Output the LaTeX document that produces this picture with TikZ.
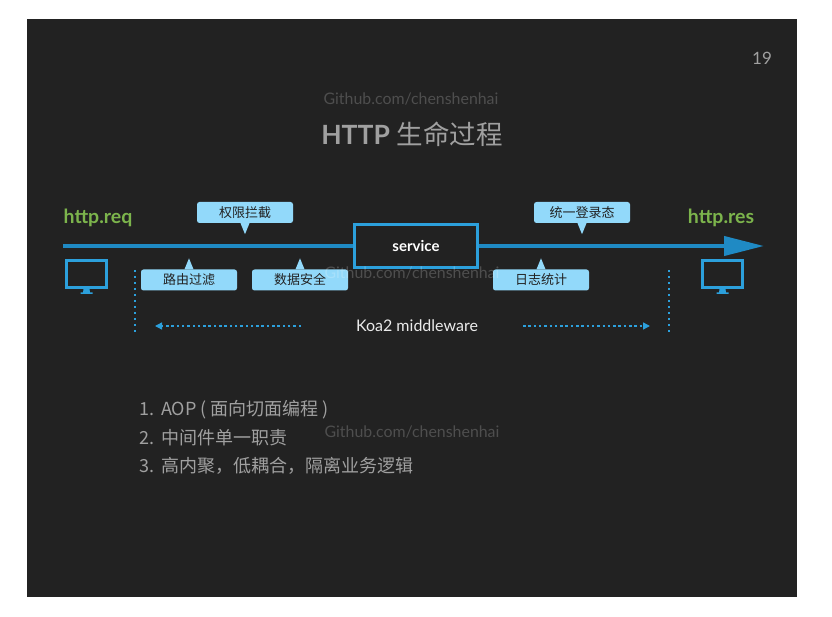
\documentclass[tikz,border=0pt]{standalone}
\usepackage{fontspec}
\setmainfont{Lato}
\newfontfamily\cjk{Noto Sans CJK SC}
\usepackage{tikz}
\usetikzlibrary{arrows.meta, positioning}
\definecolor{slidebg}{RGB}{34,34,34}
\definecolor{flowblue}{RGB}{31,138,196}
\definecolor{iconblue}{RGB}{44,160,220}
\definecolor{tagblue}{RGB}{146,217,250}
\definecolor{httpgreen}{RGB}{124,180,76}
\definecolor{listgray}{RGB}{160,160,160}
\newcommand{\listno}[1]{\makebox[22pt][l]{#1}}
\tikzset{
  tag/.style={fill=tagblue, rounded corners=2.5pt, minimum width=96pt, minimum height=21pt,
    inner sep=0pt, font=\cjk\fontsize{13}{15}\selectfont, text=slidebg},
  tagtip/.style={fill=tagblue},
  watermark/.style={text=white, text opacity=0.2, font=\fontsize{15.9}{18}\selectfont},
  httplabel/.style={text=httpgreen, font=\bfseries\fontsize{19.5}{22}\selectfont},
  listitem/.style={text=listgray, anchor=west, inner sep=0pt, font=\cjk\fontsize{18}{22}\selectfont},
  guide/.style={iconblue, line width=1.5pt, dash pattern=on 2.5pt off 3.5pt},
  guidearrow/.style={iconblue, line width=1.4pt, dash pattern=on 2.5pt off 2.8pt, -{Triangle[length=7pt,width=7pt]}},
}
\begin{document}
\begin{tikzpicture}[x=1pt, y=-1pt]
  \useasboundingbox (0,0) rectangle (832,617);
  \fill[white] (0,0) rectangle (832,617);
  \fill[slidebg] (27,19) rectangle (797,597);

  % Title and page number
  \node[text=listgray, font=\fontsize{17}{18}\selectfont] (page) at (762,58) {19};
  \node[text=listgray, font=\fontsize{26.5}{30}\selectfont] (title) at (412,134)
    {\textbf{HTTP} {\cjk 生命过程}};

  % Main flow
  \coordinate (reqstart) at (63,246);
  \coordinate (resend) at (764,246);
  \node[draw=iconblue, line width=3pt, fill=slidebg, minimum width=123pt, minimum height=43pt,
        inner sep=0pt, text=white, font=\bfseries\fontsize{15}{18}\selectfont] (service) at (416,246) {service};
  \draw[flowblue, line width=4pt] (reqstart) -- (service);
  \draw[flowblue, line width=4pt, -{Triangle[length=40pt,width=19pt]}] (service) -- (resend);
  \node[httplabel] (req) at (98,218) {http.req};
  \node[httplabel] (res) at (721,218) {http.res};

  % Tags above the line
  \node[tag] (auth) at (245,212.5) {权限拦截};
  \node[tag] (login) at (582,212.5) {统一登录态};
  \foreach \up in {auth, login}
    \fill[tagtip] ([xshift=-4.5pt]\up.south) -- ([xshift=4.5pt]\up.south) -- ([yshift=-11pt]\up.south) -- cycle;

  % Tags below the line
  \node[tag] (route) at (189,280) {路由过滤};
  \node[tag] (data) at (300,280) {数据安全};
  \node[tag] (log) at (541,280) {日志统计};
  \foreach \down in {route, data, log}
    \fill[tagtip] ([xshift=-4.5pt]\down.north) -- ([xshift=4.5pt]\down.north) -- ([yshift=11pt]\down.north) -- cycle;

  % Monitors
  \foreach \mon/\x in {monreq/86.5, monres/722.5} {
    \node[draw=iconblue, line width=3pt, minimum width=40pt, minimum height=27pt, inner sep=0pt] (\mon) at (\x,274) {};
    \fill[iconblue] ([xshift=-3pt]\mon.south) -- ([xshift=3pt]\mon.south)
      -- ([xshift=3.5pt,yshift=-3.5pt]\mon.south) -- ([xshift=6pt,yshift=-3.5pt]\mon.south)
      -- ([xshift=6pt,yshift=-5pt]\mon.south) -- ([xshift=-6pt,yshift=-5pt]\mon.south)
      -- ([xshift=-6pt,yshift=-3.5pt]\mon.south) -- ([xshift=-3.5pt,yshift=-3.5pt]\mon.south) -- cycle;
  }

  % Middleware span
  \node[text=white!92!black, font=\fontsize{16}{18}\selectfont] (koa) at (417,326) {Koa2 middleware};
  \coordinate (leftout) at (155,326);
  \coordinate (leftin) at (301,326);
  \coordinate (rightin) at (523,326);
  \coordinate (rightout) at (650,326);
  \coordinate (lefttop) at (135,270);
  \coordinate (leftbot) at (135,333);
  \coordinate (righttop) at (669,270);
  \coordinate (rightbot) at (669,333);
  \draw[guide] (lefttop) -- (leftbot);
  \draw[guide] (righttop) -- (rightbot);
  \draw[guidearrow] (leftin) -- (leftout);
  \draw[guidearrow] (rightin) -- (rightout);

  % List
  \node[listitem] (one) at (139,410) {\listno{1.}AOP ( 面向切面编程 )};
  \node[listitem] (two) at (139,438) {\listno{2.}中间件单一职责};
  \node[listitem] (three) at (139,466) {\listno{3.}高内聚，低耦合，隔离业务逻辑};

  % Watermarks
  \node[watermark] (marktop) at (411,99) {Github.com/chenshenhai};
  \node[watermark] (markmid) at (412,273) {Github.com/chenshenhai};
  \node[watermark] (marklow) at (412,432) {Github.com/chenshenhai};
\end{tikzpicture}
\end{document}
